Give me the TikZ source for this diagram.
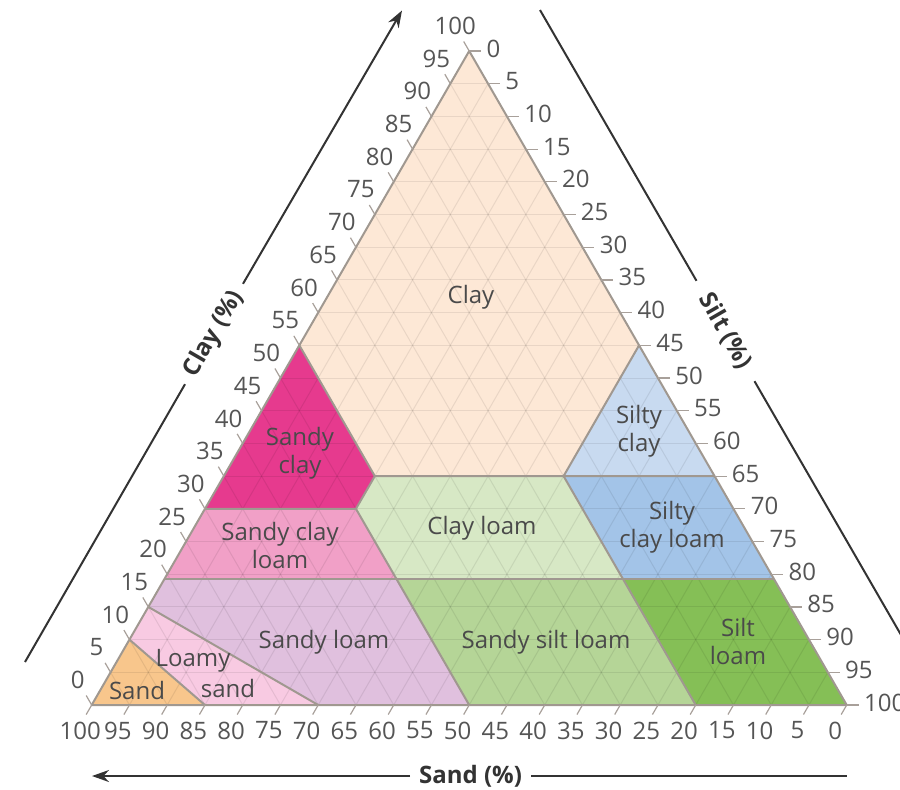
\documentclass[tikz,border=0pt]{standalone}
\usepackage{fontspec}
\setmainfont{Open Sans}
\usetikzlibrary{arrows.meta,calc}
\definecolor{cClay}{HTML}{FDE8D6}
\definecolor{cSandyClay}{HTML}{E63A8E}
\definecolor{cSandyClayLoam}{HTML}{F1A0C7}
\definecolor{cSiltyClay}{HTML}{C8DAF0}
\definecolor{cSiltyClayLoam}{HTML}{A3C4E8}
\definecolor{cClayLoam}{HTML}{D7E8C5}
\definecolor{cSandySiltLoam}{HTML}{B5D597}
\definecolor{cSiltLoam}{HTML}{85BF56}
\definecolor{cSandyLoam}{HTML}{E0C0DE}
\definecolor{cLoamySand}{HTML}{F8CAE2}
\definecolor{cSand}{HTML}{F8C68C}
\definecolor{cBorder}{HTML}{A09890}
\definecolor{cTick}{HTML}{A8A09A}
\definecolor{cNum}{HTML}{555555}
\definecolor{cLab}{HTML}{4A4A4A}
\definecolor{cAxis}{HTML}{333333}
\begin{document}
\begin{tikzpicture}[x=0.5pt,y=-0.5pt,
  region/.style={draw=cBorder,line width=1pt,line join=round},
  gridline/.style={draw=black,draw opacity=0.08,line width=0.5pt},
  tickmark/.style={draw=cTick,line width=0.6pt},
  num/.style={text=cNum,font=\fontsize{12}{14}\selectfont,inner sep=0pt},
  lab/.style={text=cLab,font=\fontsize{12}{14}\selectfont,align=center,inner sep=0pt},
  axisline/.style={draw=cAxis,line width=1pt},
  axtitle/.style={text=cAxis,font=\fontsize{12}{14}\selectfont\bfseries,inner sep=0pt}]
\useasboundingbox (0,0) rectangle (900,789);
% vertices
\coordinate (L) at (91.7,705);
\coordinate (R) at (846.7,705);
\coordinate (T) at (469.2,51);
% region corners (T = clay, L = sand, R = silt), weights as fractions
\coordinate (A) at (barycentric cs:T=0.55,L=0.45);
\coordinate (B) at (barycentric cs:T=0.55,R=0.45);
\coordinate (C) at (barycentric cs:T=0.35,L=0.45,R=0.20);
\coordinate (D) at (barycentric cs:T=0.35,L=0.20,R=0.45);
\coordinate (E) at (barycentric cs:T=0.35,R=0.65);
\coordinate (F) at (barycentric cs:T=0.30,L=0.70);
\coordinate (G) at (barycentric cs:T=0.30,L=0.50,R=0.20);
\coordinate (H) at (barycentric cs:T=0.193,L=0.807);
\coordinate (I) at (barycentric cs:T=0.193,L=0.50,R=0.307);
\coordinate (J) at (barycentric cs:T=0.193,L=0.20,R=0.607);
\coordinate (K) at (barycentric cs:T=0.193,R=0.807);
\coordinate (M) at (barycentric cs:T=0.15,L=0.85);
\coordinate (N) at (barycentric cs:T=0.10,L=0.90);
\coordinate (P) at (barycentric cs:L=0.70,R=0.30);
\coordinate (Q) at (barycentric cs:L=0.50,R=0.50);
\coordinate (U) at (barycentric cs:L=0.20,R=0.80);
\coordinate (V) at (barycentric cs:L=0.85,R=0.15);
% fills
\fill[cClay] (T) -- (A) -- (C) -- (D) -- (B) -- cycle;
\fill[cSandyClay] (A) -- (F) -- (G) -- (C) -- cycle;
\fill[cSiltyClay] (B) -- (D) -- (E) -- cycle;
\fill[cSandyClayLoam] (F) -- (H) -- (I) -- (G) -- cycle;
\fill[cClayLoam] (C) -- (G) -- (I) -- (J) -- (D) -- cycle;
\fill[cSiltyClayLoam] (D) -- (J) -- (K) -- (E) -- cycle;
\fill[cSandyLoam] (H) -- (M) -- (P) -- (Q) -- (I) -- cycle;
\fill[cLoamySand] (M) -- (N) -- (V) -- (P) -- cycle;
\fill[cSand] (N) -- (L) -- (V) -- cycle;
\fill[cSandySiltLoam] (I) -- (Q) -- (U) -- (J) -- cycle;
\fill[cSiltLoam] (J) -- (U) -- (R) -- (K) -- cycle;
% grid
\begin{scope}
\clip (L) -- (R) -- (T) -- cycle;
\foreach \k in {5,10,...,95} {
  \draw[gridline] ($(L)!{\k/100}!(T)$) -- ($(R)!{\k/100}!(T)$);
  \draw[gridline] ($(R)!{\k/100}!(L)$) -- ($(T)!{\k/100}!(L)$);
  \draw[gridline] ($(T)!{\k/100}!(R)$) -- ($(L)!{\k/100}!(R)$);
}
\end{scope}
% region borders
\draw[region] (A) -- (C) -- (G) -- (F);
\draw[region] (C) -- (D) -- (B);
\draw[region] (D) -- (E);
\draw[region] (G) -- (I) -- (Q);
\draw[region] (D) -- (J) -- (U);
\draw[region] (H) -- (K);
\draw[region] (M) -- (P);
\draw[region] (N) -- (V);
\draw[region] (L) -- (R) -- (T) -- cycle;
% ticks and numbers
\foreach \k in {0,5,...,100} {
  \draw[tickmark] ($(R)!{\k/100}!(L)$) coordinate (sb\k) -- ++(-5.5,9.5);
  \node[num] (sandnum\k) at ($(sb\k)+(-11.5,25.5)$) {\k};
  \draw[tickmark] ($(L)!{\k/100}!(T)$) coordinate (cl\k) -- ++(-5.5,-9.5);
  \node[num] (claynum\k) at ($(cl\k)+(-14,-25)$) {\k};
  \draw[tickmark] ($(T)!{\k/100}!(R)$) coordinate (si\k) -- ++(12,0);
  \node[num,anchor=west] (siltnum\k) at ($(si\k)+(17,-2.5)$) {\k};
}
% region labels
\node[lab] (lclay) at (471,297) {Clay};
\node[lab] (lsandyclay) at (300,453) {Sandy\\clay};
\node[lab] (lsandyclayloam) at (280,545) {Sandy clay\\loam};
\node[lab] (lclayloam) at (482,528) {Clay loam};
\node[lab] (lsiltyclay) at (639,431) {Silty\\clay};
\node[lab] (lsiltyclayloam) at (672,527) {Silty\\clay loam};
\node[lab] (lsandyloam) at (324,642) {Sandy loam};
\node[lab] (lsandysiltloam) at (546,642) {Sandy silt loam};
\node[lab] (lsiltloam) at (738,641) {Silt\\loam};
\node[lab] (lloamy) at (193,661) {Loamy};
\node[lab] (lloamysand) at (228,688) {sand};
\node[lab] (lsand) at (137,690) {Sand};
% axis titles and arrows
\node[axtitle,rotate=60] (claytitle) at (214,334) {Clay (\%)};
\coordinate (cla) at (25,662);
\coordinate (clb) at (185,384.2);
\coordinate (clc) at (243,283.8);
\coordinate (cld) at (402,10.5);
\draw[axisline] (cla) -- (clb);
\draw[axisline,-{Stealth[length=8.5pt,width=6pt]}] (clc) -- (cld);
\node[axtitle,rotate=-60] (silttitle) at (725.5,331) {Silt (\%)};
\coordinate (sia) at (540,10);
\coordinate (sib) at (696.5,280.8);
\coordinate (sic) at (754.5,381.2);
\coordinate (sid) at (902,636.6);
\draw[axisline] (sia) -- (sib);
\draw[axisline] (sic) -- (sid);
\node[axtitle] (sandtitle) at (470.5,776) {Sand (\%)};
\coordinate (saa) at (410,776);
\coordinate (sab) at (92,776);
\coordinate (sac) at (531,776);
\coordinate (sad) at (846.7,776);
\draw[axisline,-{Stealth[length=8.5pt,width=6pt]}] (saa) -- (sab);
\draw[axisline] (sac) -- (sad);
\end{tikzpicture}
\end{document}
